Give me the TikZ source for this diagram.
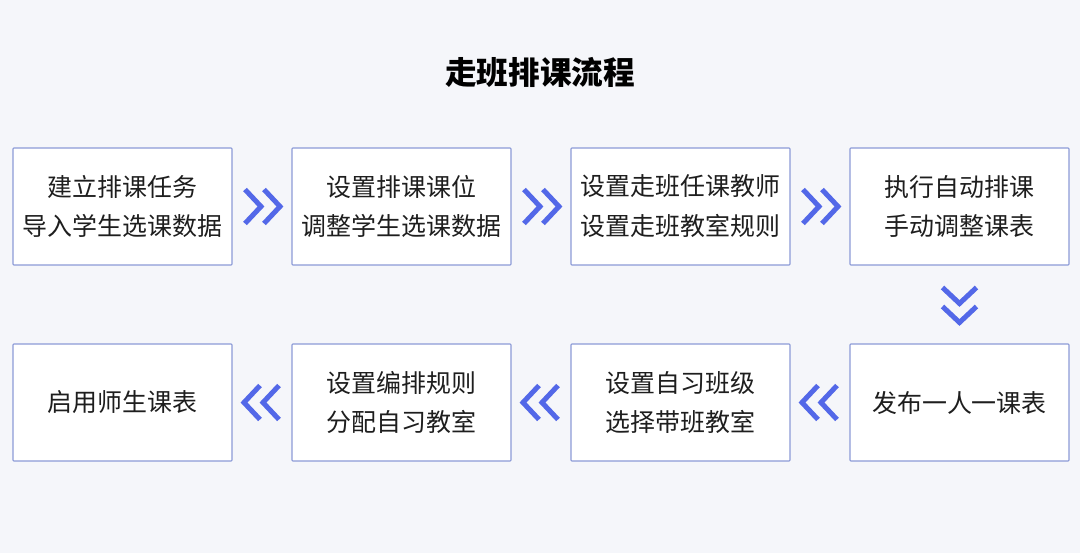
\documentclass[tikz,border=0pt]{standalone}
\usepackage{fontspec}
\setmainfont{Noto Sans CJK SC}
\usetikzlibrary{positioning}
\definecolor{bgGray}{RGB}{245,246,250}
\definecolor{boxLine}{RGB}{140,155,215}
\definecolor{chevBlue}{RGB}{83,104,232}
\definecolor{textDark}{RGB}{30,30,30}
\tikzset{
    x=0.02cm, y=-0.02cm, % one unit is one pixel of the reference
    node distance=1.56cm and 1.18cm, % gap between rows and between boxes
    chev/.pic={ % the double arrow between two steps
        \draw[chevBlue, line width=0.1cm, line join=miter]
            (-17,-17) -- (-1,0) -- (-17,17)
            (2,-17) -- (18,0) -- (2,17);
    },
}
\begin{document}
\begin{tikzpicture}[
                        stepbox/.style={draw=boxLine, fill=white, line width=0.6pt, rounded corners=0.5pt,
                            minimum width=4.38cm, minimum height=2.34cm, inner sep=0pt,
                            align=center, text=textDark, font=\fontsize{14.2}{22.7}\selectfont},
                    ]
                    \fill[bgGray] (0,0) rectangle (1080,553);
                    \node[text=black, font=\fontsize{18}{22}\selectfont\bfseries] (title) at (540,72) {走班排课流程};

                    \node[stepbox] (b1) at (122.5,206.5) {建立排课任务\\导入学生选课数据};
                    \node[stepbox, right=of b1] (b2) {设置排课课位\\调整学生选课数据};
                    \node[stepbox, right=of b2] (b3) {设置走班任课教师\\设置走班教室规则};
                    \node[stepbox, right=of b3] (b4) {执行自动排课\\手动调整课表};

                    \node[stepbox, below=of b4] (b5) {发布一人一课表};
                    \node[stepbox, left=of b5] (b6) {设置自习班级\\选择带班教室};
                    \node[stepbox, left=of b6] (b7) {设置编排规则\\分配自习教室};
                    \node[stepbox, left=of b7] (b8) {启用师生课表};

                    \path (b1) -- (b2) pic[pos=0.5] {chev};
                    \path (b2) -- (b3) pic[pos=0.5] {chev};
                    \path (b3) -- (b4) pic[pos=0.5] {chev};
                    \path (b4) -- (b5) pic[pos=0.5, rotate=-90] {chev};
                    \path (b5) -- (b6) pic[pos=0.5, rotate=180] {chev};
                    \path (b6) -- (b7) pic[pos=0.5, rotate=180] {chev};
                    \path (b7) -- (b8) pic[pos=0.5, rotate=180] {chev};
                \end{tikzpicture}
\end{document}
